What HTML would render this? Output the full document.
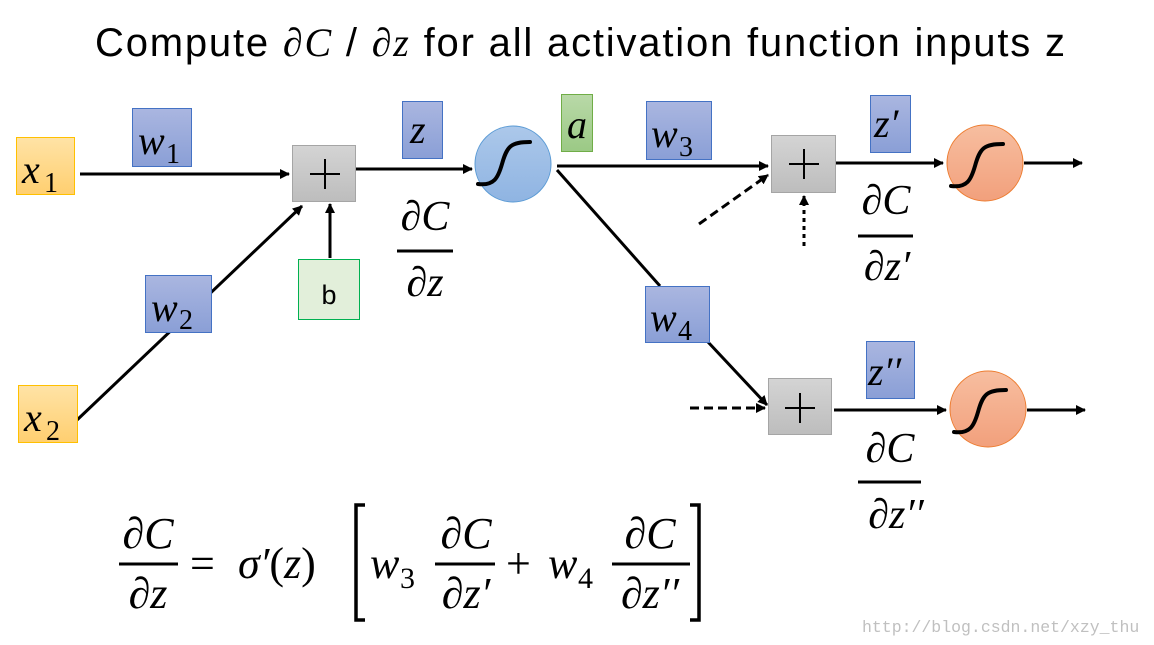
<!DOCTYPE html>
<html><head><meta charset="utf-8"><style>
html,body{margin:0;padding:0;background:#fff}
svg{display:block}
.m{font-family:"Liberation Serif",serif;font-style:italic}
.s{font-family:"Liberation Serif",serif;font-style:normal}
</style></head><body>
<svg width="1154" height="645" viewBox="0 0 1154 645" xmlns="http://www.w3.org/2000/svg">
<defs>
<linearGradient id="gy" x1="0" y1="0" x2="0" y2="1"><stop offset="0" stop-color="#ffe3a6"/><stop offset="1" stop-color="#ffcf70"/></linearGradient>
<linearGradient id="gb" x1="0" y1="0" x2="0" y2="1"><stop offset="0" stop-color="#aab6e0"/><stop offset="1" stop-color="#8a9fd6"/></linearGradient>
<linearGradient id="gg" x1="0" y1="0" x2="0" y2="1"><stop offset="0" stop-color="#d4d4d4"/><stop offset="1" stop-color="#bdbdbd"/></linearGradient>
<linearGradient id="gn" x1="0" y1="0" x2="0" y2="1"><stop offset="0" stop-color="#b9d9a8"/><stop offset="1" stop-color="#9bc985"/></linearGradient>
<linearGradient id="gc" x1="0" y1="0" x2="0" y2="1"><stop offset="0" stop-color="#acc8ea"/><stop offset="1" stop-color="#8fb4e2"/></linearGradient>
<linearGradient id="go" x1="0" y1="0" x2="0" y2="1"><stop offset="0" stop-color="#f7bea0"/><stop offset="1" stop-color="#f2a07c"/></linearGradient>
<marker id="ah" markerWidth="10" markerHeight="10" refX="9" refY="5" orient="auto" markerUnits="userSpaceOnUse"><path d="M0,0 L10,5 L0,10 z" fill="#000"/></marker>
</defs>

<text x="95" y="56" textLength="970" lengthAdjust="spacing" font-family="Liberation Sans,sans-serif" font-size="40">Compute <tspan class="m">∂C</tspan> / <tspan class="m">∂z</tspan> for all activation function inputs z</text>

<g stroke="#000" stroke-width="3" fill="none">
<line x1="80" y1="174" x2="289" y2="174" marker-end="url(#ah)"/>
<line x1="77" y1="420" x2="302" y2="206" marker-end="url(#ah)"/>
<line x1="330" y1="258" x2="330" y2="204" marker-end="url(#ah)"/>
<line x1="356" y1="169" x2="472" y2="169" marker-end="url(#ah)"/>
<line x1="557" y1="166" x2="768" y2="166" marker-end="url(#ah)"/>
<line x1="557" y1="170" x2="660" y2="286"/>
<line x1="708" y1="342" x2="767" y2="405" marker-end="url(#ah)"/>
<line x1="836" y1="163" x2="943" y2="163" marker-end="url(#ah)"/>
<line x1="1024" y1="163" x2="1082" y2="163" marker-end="url(#ah)"/>
<line x1="834" y1="410" x2="946" y2="410" marker-end="url(#ah)"/>
<line x1="1027" y1="410" x2="1085" y2="410" marker-end="url(#ah)"/>
<line x1="699" y1="224" x2="768" y2="175" stroke-dasharray="9,5" marker-end="url(#ah)"/>
<line x1="804" y1="246" x2="804" y2="196" stroke-dasharray="4,4" marker-end="url(#ah)"/>
<line x1="690" y1="408" x2="765" y2="408" stroke-dasharray="9,5" marker-end="url(#ah)"/>
</g>

<rect x="16.5" y="137.5" width="58" height="57" fill="url(#gy)" stroke="#ffc000"/>
<rect x="18.5" y="385.5" width="59" height="57" fill="url(#gy)" stroke="#ffc000"/>
<rect x="132.5" y="108.5" width="59" height="58" fill="url(#gb)" stroke="#4472c4"/>
<rect x="145.5" y="275.5" width="66" height="57" fill="url(#gb)" stroke="#4472c4"/>
<rect x="402.5" y="101.5" width="40" height="57" fill="url(#gb)" stroke="#4472c4"/>
<rect x="646.5" y="101.5" width="65" height="58" fill="url(#gb)" stroke="#4472c4"/>
<rect x="645.5" y="286.5" width="64" height="56" fill="url(#gb)" stroke="#4472c4"/>
<rect x="870.5" y="95.5" width="40" height="57" fill="url(#gb)" stroke="#4472c4"/>
<rect x="866.5" y="341.5" width="48" height="57" fill="url(#gb)" stroke="#4472c4"/>
<rect x="561.5" y="94.5" width="31" height="57" fill="url(#gn)" stroke="#70ad47"/>
<rect x="298.5" y="259.5" width="61" height="60" fill="#e2efda" stroke="#00b050"/>
<rect x="292.5" y="145.5" width="63" height="56" fill="url(#gg)" stroke="#a5a5a5"/>
<rect x="771.5" y="135.5" width="64" height="57" fill="url(#gg)" stroke="#a5a5a5"/>
<rect x="768.5" y="378.5" width="63" height="56" fill="url(#gg)" stroke="#a5a5a5"/>

<circle cx="513" cy="164" r="38" fill="url(#gc)" stroke="#5b9bd5"/>
<circle cx="985" cy="163" r="38" fill="url(#go)" stroke="#ed7d31"/>
<circle cx="988" cy="409" r="38" fill="url(#go)" stroke="#ed7d31"/>
<g stroke="#000" stroke-width="4" fill="none" stroke-linecap="round">
<path d="M478,184 C494,186 498,178 502,164 C507,146 511,142 530,142"/>
<path d="M951,186 C967,188 971,180 975,166 C980,148 984,144 1003,144"/>
<path d="M954,432 C970,434 974,426 978,412 C983,394 987,390 1006,390"/>
</g>

<g stroke="#000" stroke-width="2">
<line x1="310" y1="174" x2="340" y2="174"/><line x1="325" y1="159" x2="325" y2="189"/>
<line x1="789" y1="164" x2="819" y2="164"/><line x1="804" y1="149" x2="804" y2="179"/>
<line x1="785" y1="408" x2="815" y2="408"/><line x1="800" y1="393" x2="800" y2="423"/>
</g>

<g class="m" font-size="40">
<text x="22" y="183">x</text><text x="44" y="192" class="s" font-size="28">1</text>
<text x="24" y="431">x</text><text x="46" y="440" class="s" font-size="28">2</text>
<text x="138" y="154">w</text><text x="166" y="163" class="s" font-size="28">1</text>
<text x="151" y="321">w</text><text x="179" y="329" class="s" font-size="28">2</text>
<text x="651" y="147">w</text><text x="679" y="156" class="s" font-size="28">3</text>
<text x="650" y="331">w</text><text x="678" y="340" class="s" font-size="28">4</text>
<text x="410" y="143">z</text>
<text x="567" y="138">a</text>
<text x="874" y="137">z′</text>
<text x="868" y="385">z′′</text>
</g>
<text x="329" y="304" font-family="Liberation Sans,sans-serif" font-size="27" text-anchor="middle">b</text>

<g class="m" font-size="42" text-anchor="middle">
<text x="425" y="230">∂C</text><text x="425" y="296">∂z</text>
<text x="886" y="214">∂C</text><text x="887" y="280">∂z′</text>
<text x="890" y="462">∂C</text><text x="896" y="528">∂z′′</text>
</g>
<g stroke="#000" stroke-width="3">
<line x1="397" y1="251" x2="453" y2="251"/>
<line x1="858" y1="236" x2="913" y2="236"/>
<line x1="858" y1="482" x2="921" y2="482"/>
</g>

<g class="m" font-size="44" text-anchor="middle">
<text x="148" y="548">∂C</text><text x="148" y="608">∂z</text>
<text x="466" y="548">∂C</text><text x="466" y="608">∂z′</text>
<text x="650" y="548">∂C</text><text x="650" y="608">∂z′′</text>
</g>
<g stroke="#000" stroke-width="3">
<line x1="119" y1="564" x2="178" y2="564"/>
<line x1="435" y1="564" x2="495" y2="564"/>
<line x1="612" y1="564" x2="690" y2="564"/>
</g>
<text x="190" y="578" class="s" font-size="44">=</text>
<text x="238" y="578" class="m" font-size="44">σ′<tspan class="s">(</tspan>z<tspan class="s">)</tspan></text>
<text x="370" y="578" class="m" font-size="44">w</text><text x="400" y="588" class="s" font-size="30">3</text>
<text x="506" y="578" class="s" font-size="44">+</text>
<text x="548" y="578" class="m" font-size="44">w</text><text x="578" y="588" class="s" font-size="30">4</text>
<g stroke="#000" stroke-width="3.5" fill="none">
<path d="M365,505 L356,505 L356,620 L365,620"/>
<path d="M690,505 L699,505 L699,620 L690,620"/>
</g>

<text x="862" y="632" font-family="Liberation Mono,monospace" font-size="16.5" fill="#c0c0c0">http://blog.csdn.net/xzy_thu</text>
</svg>
</body></html>
